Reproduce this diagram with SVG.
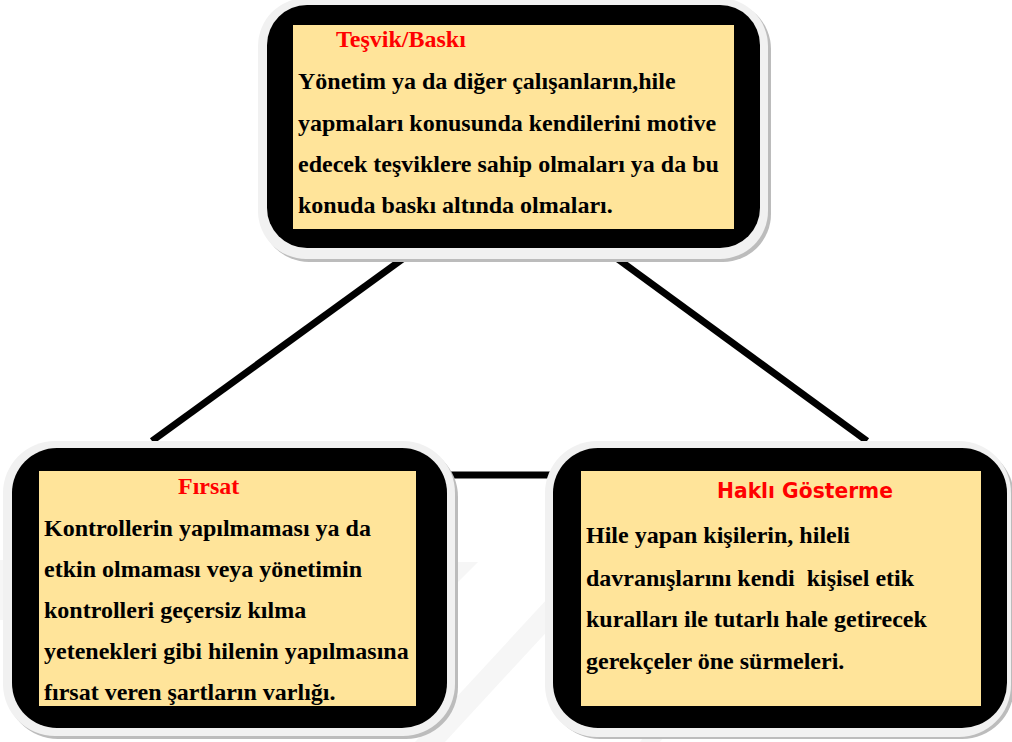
<svg xmlns="http://www.w3.org/2000/svg" width="1012" height="742" viewBox="0 0 1012 742">
<style>
.shadow{fill:#bcbcbc}
.bezel{fill:#f1f1f1}
.frame{fill:#000000}
.card{fill:#FFE49A}
.title{font-family:"Liberation Serif","Times New Roman",serif;font-weight:bold;font-size:24px;fill:#FF0000}
.title2{font-family:"DejaVu Sans","Comic Sans MS",sans-serif;font-weight:bold;font-size:21px;fill:#FF0000}
.body{font-family:"Liberation Serif","Times New Roman",serif;font-weight:bold;font-size:24px;fill:#000000;white-space:pre}
.conn{stroke:#000000;stroke-width:7;fill:none}
.wm{fill:#f6f6f6}
</style>
<rect x="0" y="0" width="1012" height="742" fill="#ffffff"/>
<g id="watermark">
<polygon class="wm" points="415,742 560,585 590,585 445,742"/>
<polygon class="wm" points="430,562 478,562 458,582 430,582"/>
<polygon class="wm" points="0,560 10,560 10,620 0,620"/>
<polygon class="wm" points="640,742 740,600 760,600 660,742"/>
</g>
<g id="connectors">
<line class="conn" x1="152" y1="441" x2="404" y2="258"/>
<line class="conn" x1="615" y1="257" x2="867" y2="441"/>
<line class="conn" x1="445" y1="475" x2="556" y2="475"/>
</g>
<g id="node-tesvik">
<rect class="shadow" x="261" y="1" width="510" height="261" rx="48"/>
<rect class="bezel" x="258" y="-2" width="510" height="261" rx="48"/>
<rect class="frame" x="267" y="5" width="493" height="243" rx="40"/>
<rect class="card" x="293" y="25" width="441" height="204"/>
<text class="title" x="336" y="47">Teşvik/Baskı</text>
<text class="body" x="298" y="89">Yönetim ya da diğer çalışanların,hile</text>
<text class="body" x="298" y="131">yapmaları konusunda kendilerini motive</text>
<text class="body" x="298" y="172">edecek teşviklere sahip olmaları ya da bu</text>
<text class="body" x="298" y="213">konuda baskı altında olmaları.</text>
</g>
<g id="node-firsat">
<rect class="shadow" x="6" y="445" width="452" height="294" rx="52"/>
<rect class="bezel" x="3" y="441" width="452" height="295" rx="52"/>
<rect class="frame" x="12" y="448" width="435" height="280" rx="45"/>
<rect class="card" x="39" y="471" width="377" height="235"/>
<text class="title" x="178" y="494">Fırsat</text>
<text class="body" x="44" y="536">Kontrollerin yapılmaması ya da</text>
<text class="body" x="44" y="577">etkin olmaması veya yönetimin</text>
<text class="body" x="44" y="618">kontrolleri geçersiz kılma</text>
<text class="body" x="44" y="659">yetenekleri gibi hilenin yapılmasına</text>
<text class="body" x="44" y="700">fırsat veren şartların varlığı.</text>
</g>
<g id="node-hakli">
<rect class="shadow" x="548" y="445" width="466" height="294" rx="52"/>
<rect class="bezel" x="545" y="441" width="466" height="296" rx="52"/>
<rect class="frame" x="553" y="448" width="454" height="280" rx="45"/>
<rect class="card" x="581" y="471" width="400" height="235"/>
<text class="title2" x="717" y="498" textLength="176" lengthAdjust="spacingAndGlyphs">Haklı Gösterme</text>
<text class="body" x="586" y="543">Hile yapan kişilerin, hileli</text>
<text class="body" x="586" y="586">davranışlarını kendi  kişisel etik</text>
<text class="body" x="586" y="627">kuralları ile tutarlı hale getirecek</text>
<text class="body" x="586" y="669">gerekçeler öne sürmeleri.</text>
</g>
</svg>
